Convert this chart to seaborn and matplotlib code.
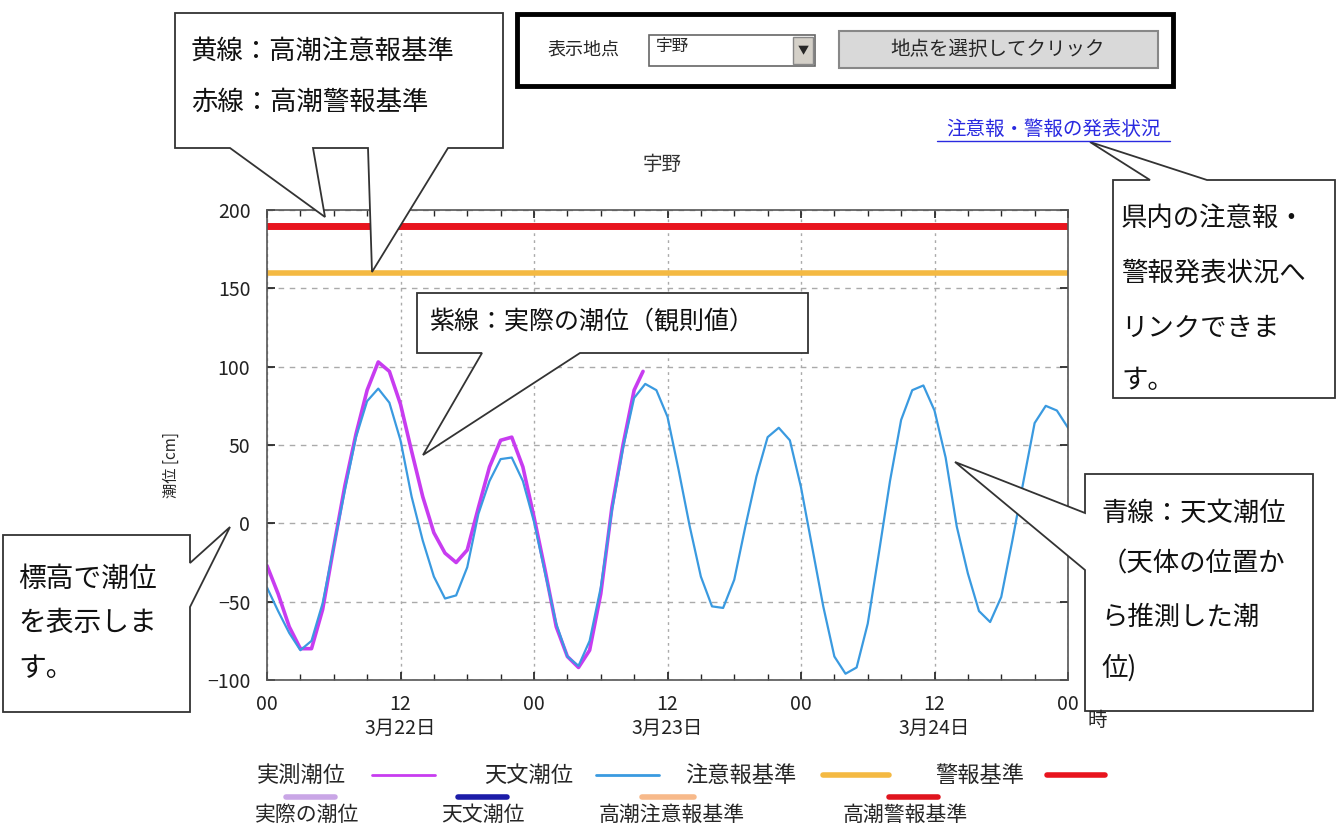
import matplotlib
matplotlib.use('Agg')
import matplotlib.pyplot as plt
import pandas as pd
import seaborn as sns
from matplotlib.patches import Polygon, Rectangle

# hours counted from 3/22 00:00
hours = list(range(73))
# 天文潮位 (astronomical tide, cm), hourly
astro_tide = [-41, -56, -70, -81, -75, -51, -15, 21, 55, 78, 86, 77, 53, 17, -11, -34,
              -48, -46, -28, 6, 27, 41, 42, 27, 1, -32, -64, -85, -91, -75, -41, 8,
              48, 80, 89, 85, 68, 34, -2, -34, -53, -54, -36, -2, 30, 55, 61, 53,
              23, -15, -53, -85, -96, -92, -64, -19, 27, 66, 85, 88, 72, 42, -2, -32,
              -56, -63, -47, -11, 27, 64, 75, 72, 61]
# 実測潮位 (observed tide, cm), ends a little before 3/23 10:00
obs_hours = list(range(34)) + [33.8]
obs_tide = [-27, -45, -66, -80, -80, -55, -15, 24, 57, 85, 103, 97, 76, 46, 17, -6,
            -19, -25, -17, 10, 36, 53, 55, 36, 4, -30, -66, -85, -92, -81, -45, 10,
            50, 85, 97]
caution_level = 160   # 高潮注意報基準
warning_level = 190   # 高潮警報基準

x_ticks = [0, 12, 24, 36, 48, 60, 72]
x_labels = ['00', '12\n3月22日', '00', '12\n3月23日', '00', '12\n3月24日', '00']
y_ticks = [-100, -50, 0, 50, 100, 150, 200]

PURPLE = '#c83cf0'
BLUE = '#3a9ae0'
YELLOW = '#f4b942'
RED = '#e8141e'

sns.set_theme(style='ticks')
plt.rcParams['font.family'] = ['Noto Sans CJK JP', 'DejaVu Sans']

W, H = 1338, 835
fig = plt.figure(figsize=(W / 100, H / 100), dpi=100)
fig.patch.set_facecolor('white')
ax = fig.add_axes([267 / W, 1 - 680 / H, (1068 - 267) / W, (680 - 210) / H])

astro = pd.DataFrame({'hour': hours, 'cm': astro_tide})
obs = pd.DataFrame({'hour': obs_hours, 'cm': obs_tide})

ax.axhline(warning_level, color=RED, lw=5)
ax.axhline(caution_level, color=YELLOW, lw=4)
sns.lineplot(data=obs, x='hour', y='cm', color=PURPLE, lw=2.6, ax=ax)
sns.lineplot(data=astro, x='hour', y='cm', color=BLUE, lw=1.6, ax=ax)

ax.set_xlim(0, 72)
ax.set_ylim(-100, 200)
ax.set_xticks(x_ticks)
ax.set_xticklabels(x_labels)
ax.set_xticks(range(0, 73, 3), minor=True)
ax.set_yticks(y_ticks)
ax.tick_params(direction='in', top=True, right=True, length=6, labelsize=14, colors='#222')
ax.tick_params(axis='x', pad=10)
ax.tick_params(axis='y', pad=12)
ax.tick_params(which='minor', direction='in', top=True, length=4)
ax.xaxis.grid(True, ls=(0, (2, 3)), color='#aaaaaa', lw=1)
ax.yaxis.grid(True, ls=(0, (4, 4)), color='#aaaaaa', lw=1)
ax.set_axisbelow(True)
for s in ax.spines.values():
    s.set_color('#555555')
    s.set_linewidth(1.2)
ax.set_xlabel('')
ax.set_ylabel('潮位 [cm]', fontsize=11)
ax.yaxis.set_label_coords((180 - 267) / 801, (680 - 465) / 470)
fig.text(662 / W, 1 - 165 / H, '宇野', fontsize=14, color='#333', ha='center', va='center')

# overlay in pixel coordinates for the callouts, controls and legend
ov = fig.add_axes([0, 0, 1, 1], zorder=5)
ov.set_xlim(0, W)
ov.set_ylim(H, 0)
ov.axis('off')


def callout(pts, lines, x0, ys, size):
    ov.add_patch(Polygon(pts, closed=True, fc='white', ec='#333', lw=1.3))
    for y, t in zip(ys, lines):
        ov.text(x0, y, t, fontsize=size, ha='left', va='center', color='#111')


callout([(175, 13), (503, 13), (503, 148), (448, 148), (372, 272), (368, 148),
         (313, 148), (325, 217), (230, 148), (175, 148)],
        ['黄線：高潮注意報基準', '赤線：高潮警報基準'], 191, [51, 102], 19)
callout([(417, 293), (808, 293), (808, 353), (580, 353), (423, 455), (482, 353), (417, 353)],
        ['紫線：実際の潮位（観則値）'], 430, [322], 18)
callout([(1113, 180), (1150, 180), (1090, 142), (1207, 180), (1335, 180), (1335, 398), (1113, 398)],
        ['県内の注意報・', '警報発表状況へ', 'リンクできま', 'す。'], 1121, [218, 273, 328, 381], 19)
callout([(3, 535), (190, 535), (190, 563), (230, 527), (190, 607), (190, 712), (3, 712)],
        ['標高で潮位', 'を表示しま', 'す。'], 18, [579, 623, 668], 20)
callout([(1085, 474), (1313, 474), (1313, 711), (1085, 711), (1085, 570), (955, 462), (1085, 513)],
        ['青線：天文潮位', '（天体の位置か', 'ら推測した潮', '位)'], 1101, [513, 564, 617, 668], 19)

# station selector
ov.add_patch(Rectangle((517, 14), 656, 72, fc='white', ec='black', lw=3.5))
ov.text(583, 50, '表示地点', ha='center', va='center', fontsize=13)
ov.add_patch(Rectangle((649, 35), 166, 31, fc='white', ec='#666', lw=1.2))
ov.add_patch(Rectangle((793, 37), 20, 27, fc='#d4d0c8', ec='#888', lw=1))
ov.text(803, 51, '▼', ha='center', va='center', fontsize=8)
ov.text(656, 46, '宇野', ha='left', va='center', fontsize=12)
ov.add_patch(Rectangle((839, 31), 319, 37, fc='#d9d9d9', ec='#888', lw=1.5))
ov.text(998, 49, '地点を選択してクリック', ha='center', va='center', fontsize=14)
ov.text(1053, 129, '注意報・警報の発表状況', ha='center', va='center', fontsize=14, color='#2a2ae0')
ov.plot([937, 1170], [141, 141], color='#2a2ae0', lw=1)
ov.text(1097, 720, '時', ha='center', va='center', fontsize=14)

# legend rows
row1 = [('実測潮位', 257, 372, 435, PURPLE, 2),
        ('天文潮位', 484, 596, 659, BLUE, 2),
        ('注意報基準', 685, 823, 889, YELLOW, 4),
        ('警報基準', 935, 1047, 1105, RED, 4)]
for label, tx, l0, l1, c, w in row1:
    ov.text(tx, 775, label, ha='left', va='center', fontsize=16)
    ov.plot([l0, l1], [775, 775], color=c, lw=w)

row2 = [('実際の潮位', 255, 286, 335, '#c9a6e6'),
        ('天文潮位', 441, 458, 507, '#1c1ca8'),
        ('高潮注意報基準', 599, 642, 694, '#f7b98a'),
        ('高潮警報基準', 843, 889, 938, '#e0141e')]
for label, tx, l0, l1, c in row2:
    ov.text(tx, 815, label, ha='left', va='center', fontsize=15)
    ov.plot([l0, l1], [797, 797], color=c, lw=4)

fig.savefig('out.png', dpi=100)
